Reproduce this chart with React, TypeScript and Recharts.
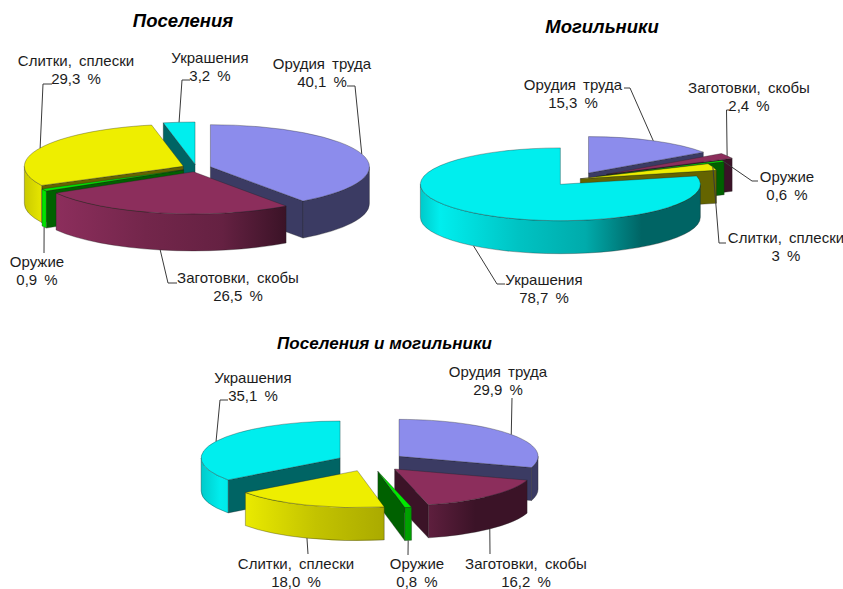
import React from "react";
import { PieChart, Pie } from "recharts";

// Artefact categories, clockwise from twelve o'clock
const categories = ["Орудия труда", "Заготовки, скобы", "Оружие", "Слитки, сплески", "Украшения"];

const settlementShares = [40.1, 26.5, 0.9, 29.3, 3.2];
const settlementLabels = ["40,1 %", "26,5 %", "0,9 %", "29,3 %", "3,2 %"];

const burialShares = [15.3, 2.4, 0.6, 3, 78.7];
const burialLabels = ["15,3 %", "2,4 %", "0,6 %", "3 %", "78,7 %"];

const combinedShares = [29.9, 16.2, 0.8, 18.0, 35.1];
const combinedLabels = ["29,9 %", "16,2 %", "0,8 %", "18,0 %", "35,1 %"];

const topColors = ["#8C8CEC", "#8C2E5C", "#00E800", "#EEEE00", "#00EEEE"];
const FONT = '"Liberation Sans", Arial, sans-serif';
const INK = "#1c1c1c";
const EDGE = "rgba(30,30,30,0.55)";

type Callout = { x: number; y: number; bend: number[][] };

type Panel = {
  id: string;
  title: string;
  titleX: number;
  titleY: number;
  titleSize: number;
  shares: number[];
  labels: string[];
  cx: number;
  cy: number;
  radius: number;
  tilt: number;
  depth: number;
  explode: number[];
  paintOrder: number[];
  callouts: Callout[];
};

const panels: Panel[] = [
  {
    id: "settlements",
    title: "Поселения",
    titleX: 183,
    titleY: 21,
    titleSize: 18.5,
    shares: settlementShares,
    labels: settlementLabels,
    cx: 196.5,
    cy: 168,
    radius: 159,
    tilt: 0.265,
    depth: 37,
    explode: [14.6, 14.6, 14.6, 14.6, 14.6],
    paintOrder: [4, 0, 3, 2, 1],
    callouts: [
      { x: 322, y: 64, bend: [[355, 86], [347, 86]] },
      { x: 238, y: 278, bend: [[168, 283], [177, 283]] },
      { x: 37, y: 262, bend: [[44, 253]] },
      { x: 76, y: 61, bend: [[43, 84], [52, 84]] },
      { x: 210, y: 58, bend: [[182, 80], [190, 80]] },
    ],
  },
  {
    id: "burials",
    title: "Могильники",
    titleX: 602,
    titleY: 27,
    titleSize: 18.5,
    shares: burialShares,
    labels: burialLabels,
    cx: 576.5,
    cy: 179,
    radius: 140,
    tilt: 0.26,
    depth: 33,
    explode: [26, 35, 22, 4, 26],
    paintOrder: [0, 1, 2, 3, 4],
    callouts: [
      { x: 573, y: 85, bend: [[630, 88], [624, 88]] },
      { x: 749, y: 88, bend: [[726.5, 110], [729, 110]] },
      { x: 787, y: 177, bend: [[752, 181], [758, 181]] },
      { x: 786, y: 238, bend: [[719, 243], [726, 243]] },
      { x: 544, y: 280, bend: [[497, 284], [505, 284]] },
    ],
  },
  {
    id: "combined",
    title: "Поселения и могильники",
    titleX: 384.5,
    titleY: 343,
    titleSize: 17,
    shares: combinedShares,
    labels: combinedLabels,
    cx: 370,
    cy: 462,
    radius: 139,
    tilt: 0.266,
    depth: 33,
    explode: [36, 36, 36, 35, 33.5],
    paintOrder: [0, 4, 1, 2, 3],
    callouts: [
      { x: 498, y: 372, bend: [[512, 398]] },
      { x: 526, y: 564, bend: [[490, 554]] },
      { x: 417, y: 564, bend: [[408, 555]] },
      { x: 296, y: 564, bend: [[308, 554]] },
      { x: 253, y: 378, bend: [[220, 400], [228, 400]] },
    ],
  },
];

const toRad = (deg: number) => (deg * Math.PI) / 180;

function shade(hex: string, k: number) {
  const n = parseInt(hex.slice(1), 16);
  const part = (v: number) => Math.round(v * k);
  return `rgb(${part((n >> 16) & 255)},${part((n >> 8) & 255)},${part(n & 255)})`;
}

// Light falls from the left: wall brightness by position across the disc
const wallStops: [number, number][] = [
  [0, 0.85],
  [0.07, 1],
  [0.35, 0.82],
  [0.59, 0.72],
  [0.79, 0.42],
  [1, 0.42],
];

function geometry(panel: Panel, p: any, index: number) {
  // Recharts angles run counter-clockwise from east; convert to clockwise from north
  const a = 90 - p.startAngle;
  const b = 90 - p.endAngle;
  const mid = (a + b) / 2;
  const r = p.outerRadius;
  const ry = r * panel.tilt;
  const d = panel.explode[index];
  const ax = p.cx + d * Math.sin(toRad(mid));
  const ay = p.cy - d * panel.tilt * Math.cos(toRad(mid));
  const rim = (deg: number): [number, number] => [
    ax + r * Math.sin(toRad(deg)),
    ay - ry * Math.cos(toRad(deg)),
  ];
  return { a, b, mid, r, ry, ax, ay, rim };
}

function Slice({ panel, p, index }: { panel: Panel; p: any; index: number }) {
  const { a, b, r, ry, ax, ay, rim } = geometry(panel, p, index);
  const base = topColors[index];
  const h = panel.depth;
  const [sx, sy] = rim(a);
  const [ex, ey] = rim(b);
  const large = b - a > 180 ? 1 : 0;
  const top = `M${ax},${ay}L${sx},${sy}A${r},${ry} 0 ${large} 1 ${ex},${ey}Z`;

  const face = ([x, y]: [number, number]) =>
    `M${ax},${ay}L${x},${y}L${x},${y + h}L${ax},${ay + h}Z`;
  const showStart = Math.sin(toRad(a)) < -0.001;
  const showEnd = Math.sin(toRad(b)) > 0.001;

  const w0 = Math.max(a, 90);
  const w1 = Math.min(b, 270);
  let wall = "";
  if (w1 > w0) {
    const [x0, y0] = rim(w0);
    const [x1, y1] = rim(w1);
    wall = `M${x0},${y0}A${r},${ry} 0 0 1 ${x1},${y1}L${x1},${y1 + h}A${r},${ry} 0 0 0 ${x0},${y0 + h}Z`;
  }
  const gradId = `${panel.id}-wall-${index}`;
  const cut = shade(base, 0.42);

  return (
    <g>
      <defs>
        <linearGradient id={gradId} gradientUnits="userSpaceOnUse" x1={ax - r} x2={ax + r} y1={0} y2={0}>
          {wallStops.map(([o, k]) => (
            <stop key={o} offset={o} stopColor={shade(base, k)} />
          ))}
        </linearGradient>
      </defs>
      {showStart && <path d={face([sx, sy])} fill={cut} stroke={EDGE} strokeWidth={0.6} />}
      {showEnd && <path d={face([ex, ey])} fill={cut} stroke={EDGE} strokeWidth={0.6} />}
      {wall && <path d={wall} fill={`url(#${gradId})`} stroke={EDGE} strokeWidth={0.6} />}
      <path d={top} fill={base} stroke={EDGE} strokeWidth={0.6} />
    </g>
  );
}

function Callout({ panel, p }: { panel: Panel; p: any }) {
  const index = p.index;
  const { mid, rim } = geometry(panel, p, index);
  const c = panel.callouts[index];
  const [mx, my] = rim(mid);
  // Leaders on the near side of the disc start from the bottom of the wall
  const y0 = mid > 90 && mid < 270 ? my + panel.depth : my;
  const pts = [[mx, y0], ...c.bend].map((q) => q.join(",")).join(" ");
  return (
    <g>
      <polyline points={pts} fill="none" stroke="#3a3a3a" strokeWidth={1} />
      <text
        x={c.x}
        textAnchor="middle"
        fontFamily={FONT}
        fontSize={15}
        wordSpacing={3}
        fill={INK}
      >
        <tspan x={c.x} y={c.y + 5}>
          {categories[index]}
        </tspan>
        <tspan x={c.x} y={c.y + 22.5}>
          {panel.labels[index]}
        </tspan>
      </text>
    </g>
  );
}

function renderPanel(panel: Panel) {
  const data = categories.map((name, i) => ({ name, value: panel.shares[i] }));
  const common = {
    data,
    dataKey: "value",
    nameKey: "name",
    cx: panel.cx,
    cy: panel.cy,
    outerRadius: panel.radius,
    startAngle: 90,
    endAngle: -270,
    isAnimationActive: false,
    legendType: "none" as const,
  };
  // Each slice gets its own layer so the exploded wedges can be painted back to front
  const layers = panel.paintOrder.map((slice) => (
    <Pie
      key={`${panel.id}-${slice}`}
      {...common}
      shape={(p: any, i: number) => {
        const index = p.index ?? i;
        return index === slice ? <Slice panel={panel} p={p} index={index} /> : <g />;
      }}
    />
  ));
  return [
    ...layers,
    <Pie
      key={`${panel.id}-labels`}
      {...common}
      shape={() => <g />}
      labelLine={false}
      label={(p: any) => <Callout panel={panel} p={p} />}
    />,
  ];
}

export default function App() {
  return (
    <div style={{ position: "absolute", left: 0, top: 0, width: 843, height: 589, background: "#fff" }}>
      <PieChart width={843} height={589} margin={{ top: 0, right: 0, bottom: 0, left: 0 }}>
        {panels.flatMap(renderPanel)}
        {panels.map((panel) => (
          <text
            key={panel.id}
            x={panel.titleX}
            y={panel.titleY + 6}
            textAnchor="middle"
            fontFamily={FONT}
            fontWeight="bold"
            fontStyle="italic"
            fontSize={panel.titleSize}
            fill="#000"
          >
            {panel.title}
          </text>
        ))}
      </PieChart>
    </div>
  );
}
